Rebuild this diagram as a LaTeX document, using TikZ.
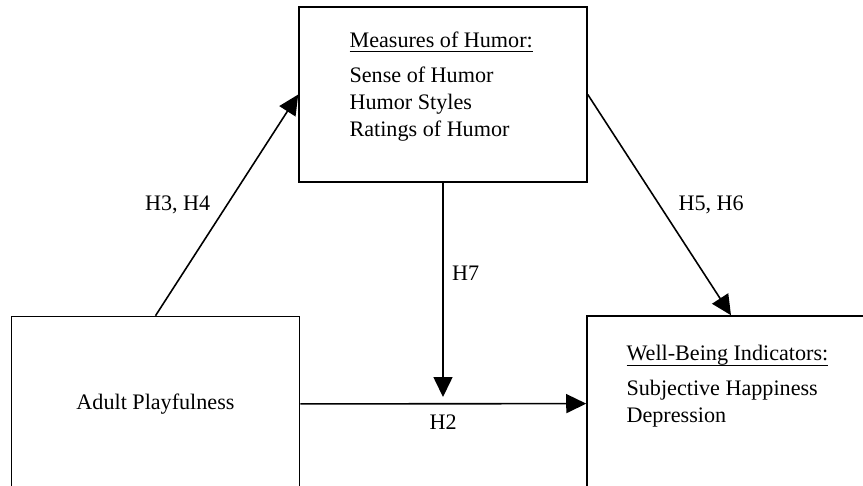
\documentclass[tikz,border=0pt]{standalone}
\usepackage{fontspec}
\setmainfont{Liberation Serif}
\usetikzlibrary{arrows.meta,positioning}

% header with a rule under it
\newcommand{\ulhead}[1]{\leavevmode\setbox0=\hbox{#1}\rlap{\raisebox{-3pt}{\rule{\wd0}{0.8pt}}}\box0}

\begin{document}
\begin{tikzpicture}[
    x=0.02cm, y=-0.02cm,
    font=\fontsize{12.6}{15.4}\selectfont,
    box/.style={draw, line width=0.9pt, minimum width=5.76cm, minimum height=3.5cm, inner sep=0pt},
    list/.style={anchor=north west, align=left, inner sep=0pt},
    arrow/.style={-{Triangle[length=4mm, width=3.8mm]}, line width=0.9pt}
]
\clip (0,0) rectangle (863,485);
\node[box] (humor) at (443,94.5) {};
\node[box] (play) at (155.5,404) {Adult Playfulness};
\node[box] (well) at (731,403.5) {};
\node[list] (humorlist) at ([shift={(51,25)}]humor.north west) {\ulhead{Measures of Humor:}\\[4.5pt]Sense of Humor\\Humor Styles\\Ratings of Humor};
\node[list] (welllist) at ([shift={(40,30)}]well.north west) {\ulhead{Well-Being Indicators:}\\[4.5pt]Subjective Happiness\\Depression};
\coordinate (meet) at (443,397);
\draw[arrow] (play.north) -- node[left=0.2cm]{H3, H4} (humor.west);
\draw[arrow] (humor.east) -- node[right=0.25cm]{H5, H6} (well.north);
\draw[arrow] (humor.south) -- node[pos=0.42, right=0.05cm]{H7} (meet);
\draw[arrow] (play) -- node[below=0.09cm]{H2} (well);
\end{tikzpicture}
\end{document}
